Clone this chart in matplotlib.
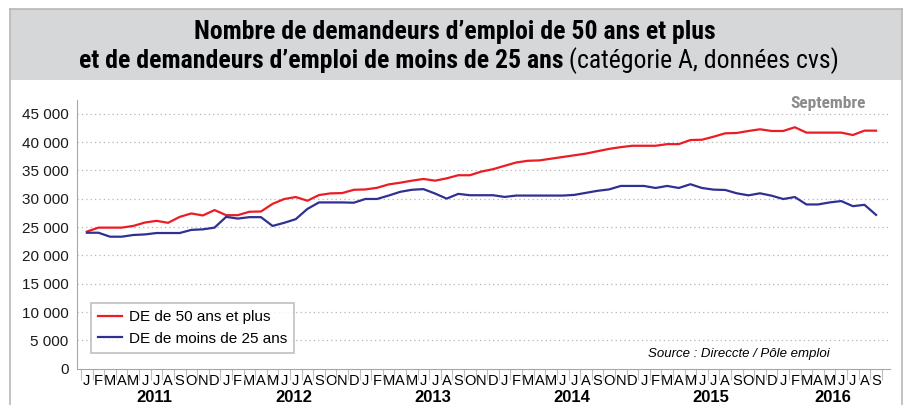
import matplotlib
matplotlib.use('Agg')
import matplotlib.pyplot as plt
from matplotlib import font_manager
from matplotlib.patches import Rectangle
from matplotlib.lines import Line2D
from matplotlib.transforms import ScaledTranslation

# data (Jan 2011 .. Sep 2016, monthly)
month_letters = ['J', 'F', 'M', 'A', 'M', 'J', 'J', 'A', 'S', 'O', 'N', 'D']
years = ['2011', '2012', '2013', '2014', '2015', '2016']
months_in_year = [12, 12, 12, 12, 12, 9]

de_50_plus = [24200, 24900, 24900, 24900, 25200, 25800, 26100, 25750, 26800, 27400, 27050, 28000,
              27100, 27100, 27700, 27750, 29100, 29950, 30300, 29650, 30650, 30950, 31000, 31580,
              31640, 31930, 32530, 32830, 33190, 33490, 33190, 33600, 34150, 34150, 34800, 35220,
              35820, 36400, 36700, 36770, 37070, 37370, 37670, 37970, 38390, 38800, 39110, 39350,
              39350, 39350, 39640, 39640, 40360, 40420, 40950, 41550, 41610, 41960, 42260, 41960,
              41960, 42620, 41670, 41670, 41670, 41670, 41250, 42020, 42020]
de_moins_25 = [24000, 24000, 23300, 23300, 23600, 23700, 23950, 23950, 23950, 24500, 24600, 24900,
               26800, 26500, 26750, 26750, 25200, 25750, 26400, 28200, 29350, 29350, 29350, 29300,
               29960, 29960, 30560, 31220, 31580, 31700, 30920, 30020, 30860, 30620, 30620, 30620,
               30320, 30560, 30560, 30560, 30560, 30560, 30680, 31040, 31400, 31650, 32260, 32260,
               32260, 31900, 32260, 31900, 32560, 31900, 31610, 31550, 30960, 30600, 30960, 30540,
               29950, 30300, 28990, 28990, 29350, 29590, 28690, 28930, 27150]

RED = '#ec1c24'
BLUE = '#2e3192'
GREY = '#a6a6a6'

available = {f.name for f in font_manager.fontManager.ttflist}
narrow = 'DejaVu Sans'
for name in ['Liberation Sans Narrow', 'Roboto Condensed', 'Open Sans Condensed', 'Roboto']:
    if name in available:
        narrow = name
        break
plt.rcParams['font.family'] = ['Liberation Sans', 'DejaVu Sans']

W, H = 909, 405
fig = plt.figure(figsize=(W / 100, H / 100), dpi=100)

def fx(px):
    return px / W

def fy(py):
    return 1 - py / H

# outer frame and title band
fig.patches.append(Rectangle((fx(10), fy(80)), fx(892), (71) / H, transform=fig.transFigure,
                             facecolor='#d6d7d9', edgecolor='none', zorder=0))
for xs, ys in [([10, 10], [9, 410]), ([902, 902], [9, 410]), ([10, 902], [9, 9])]:
    fig.add_artist(Line2D([fx(v) for v in xs], [fy(v) for v in ys], color='#b8b8b8', lw=1.2,
                          transform=fig.transFigure))

title_font = dict(family=narrow, fontsize=18.5)
fig.text(fx(455), fy(32), 'Nombre de demandeurs d\u2019emploi de 50 ans et plus', ha='center',
         va='center', fontweight='bold', **title_font)
t_bold = fig.text(0, fy(61), 'et de demandeurs d\u2019emploi de moins de 25 ans', ha='left',
                  va='center', fontweight='bold', **title_font)
t_norm = fig.text(0, fy(61), ' (cat\u00e9gorie A, donn\u00e9es cvs)', ha='left', va='center',
                  **title_font)
r = fig.canvas.get_renderer()
wb = t_bold.get_window_extent(r).width
wn = t_norm.get_window_extent(r).width
x0 = 459 - (wb + wn) / 2
t_bold.set_x(fx(x0))
t_norm.set_x(fx(x0 + wb))

# axes
n = len(de_50_plus)
left_px, right_px, top_px, bot_px = 77, 890, 99.6, 368.7
ax = fig.add_axes([fx(left_px), fy(bot_px), fx(right_px - left_px), (bot_px - top_px) / H])
idx = list(range(n))
ax.plot(idx, de_50_plus, color=RED, lw=1.6, label='DE de 50 ans et plus', zorder=3)
ax.plot(idx, de_moins_25, color=BLUE, lw=1.6, label='DE de moins de 25 ans', zorder=3)
ax.set_xlim(-0.85, 69.2)
ax.set_ylim(0, 47500)
ax.set_yticks(range(0, 45001, 5000))
ax.set_yticklabels([f'{v:,}'.replace(',', ' ') for v in range(0, 45001, 5000)], fontsize=11)
shift = ScaledTranslation(0, 3 / 72, fig.dpi_scale_trans)
for lab in ax.get_yticklabels():
    lab.set_transform(lab.get_transform() + shift)
for v in range(5000, 45001, 5000):
    ax.axhline(v, color='#b5b5b5', lw=0.9, ls=(0, (1, 2.5)), zorder=1)
for s in ['top', 'right']:
    ax.spines[s].set_visible(False)
ax.spines['left'].set_color(GREY)
ax.spines['bottom'].set_color(GREY)
ax.tick_params(axis='y', length=0, pad=6, labelcolor='#1a1a1a')

labels = []
for k in months_in_year:
    labels += month_letters[:k]
ax.set_xticks(idx)
ax.set_xticklabels(labels, fontsize=10.5)
ax.set_xticks([i - 0.5 for i in range(n + 1)], minor=True)
ax.tick_params(axis='x', which='major', length=0, pad=4)
ax.tick_params(axis='x', which='minor', length=8, color='#bdbdbd', width=0.8)

start = 0
for yr, k in zip(years, months_in_year):
    ax.annotate(yr, xy=(start + (k - 1) / 2 + 0.3, 0), xycoords=('data', 'axes fraction'),
                xytext=(0, -21), textcoords='offset points', ha='center', va='center',
                fontsize=12, fontweight='bold')
    start += k

ax.text(0.97, 0.985, 'Septembre', transform=ax.transAxes, ha='right', va='center',
        fontsize=12.5, fontweight='bold', color='#8c8c8c', family=narrow)
ax.text(0.926, 0.053, 'Source : Direccte / P\u00f4le emploi', transform=ax.transAxes,
        ha='right', va='center', fontsize=9.5, style='italic')

leg = ax.legend(loc='lower left', bbox_to_anchor=((91 - left_px) / (right_px - left_px), 0.06),
                fontsize=11, frameon=True, fancybox=False, edgecolor='#b0b0b0',
                handlelength=1.6, handletextpad=0.45, borderpad=0.45, labelspacing=0.5,
                borderaxespad=0)
leg.get_frame().set_linewidth(1.2)

fig.savefig('out.png', dpi=100)
